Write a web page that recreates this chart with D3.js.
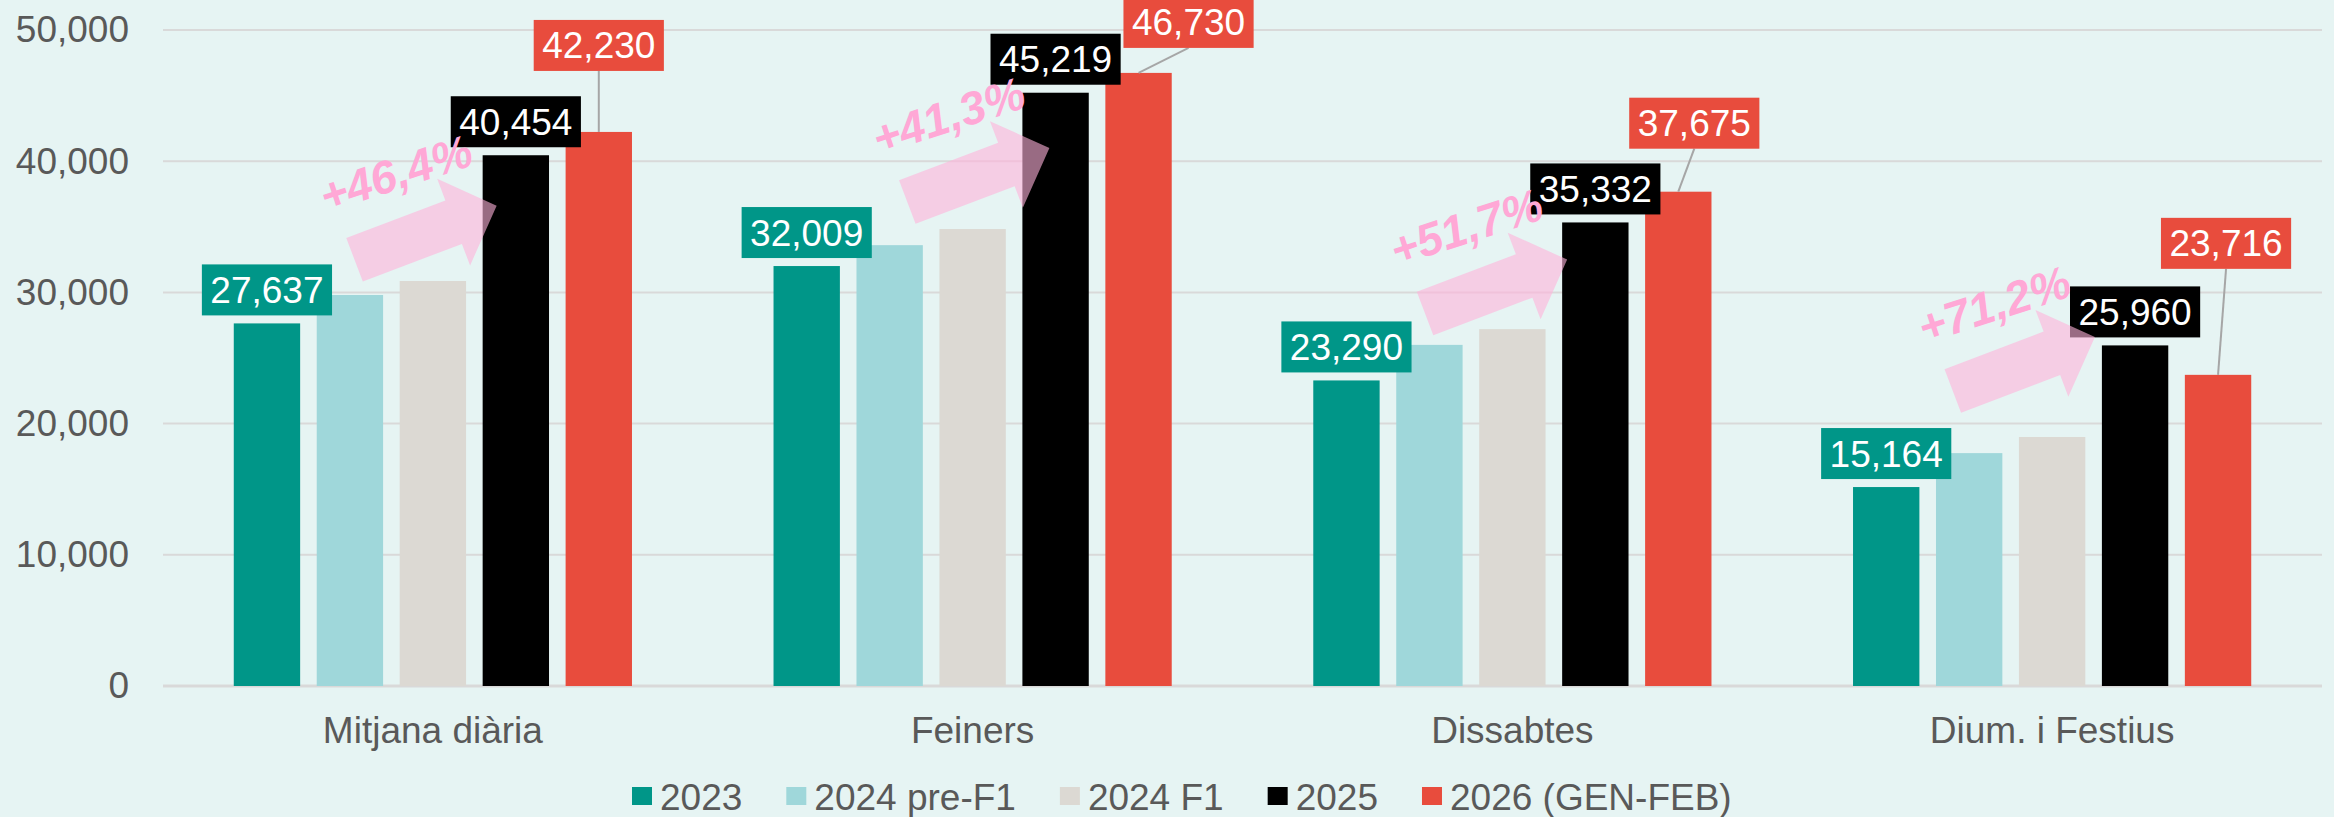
<!DOCTYPE html>
<html>
<head>
<meta charset="utf-8">
<script src="https://cdn.jsdelivr.net/npm/d3@7"></script>
<style>
  html, body { margin: 0; padding: 0; background: #E6F4F3; }
  svg { display: block; font-family: "Liberation Sans", Arial, sans-serif; }
</style>
</head>
<body>
<svg id="chart" width="2334" height="817"></svg>
<script>
// dades
const categories = ["Mitjana diària", "Feiners", "Dissabtes", "Dium. i Festius"];
const seriesNames = ["2023", "2024 pre-F1", "2024 F1", "2025", "2026 (GEN-FEB)"];
const values2023 = [27637, 32009, 23290, 15164];
const values2024pre = [29800, 33600, 26000, 17750];
const values2024f1 = [30870, 34830, 27200, 18980];
const values2025 = [40454, 45219, 35332, 25960];
const values2026 = [42230, 46730, 37675, 23716];
const yTicks = [0, 10000, 20000, 30000, 40000, 50000];
const growthLabels = ["+46,4%", "+41,3%", "+51,7%", "+71,2%"];
const arrowTipValues = [36600, 41000, 32500, 26600];

const seriesValues = [values2023, values2024pre, values2024f1, values2025, values2026];
const colors = ["#009688", "#9FD7DA", "#DCD9D3", "#000000", "#E84C3D"];
const labelled = [0, 3, 4];

// ajustos manuals de les etiquetes / fletxes
const label2026Nudge = [[0, -53], [50, -17], [16, -35], [8, -98]];
const arrowTipDx = [14, 27, 5, -7];

const svg = d3.select("#chart");
const W = 2334, H = 817;
const fontColor = "#595959";

svg.append("rect").attr("width", W).attr("height", H).attr("fill", "#E6F4F3");

const x0 = d3.scaleBand()
    .domain(categories)
    .range([163, 2322])
    .paddingInner(0.2315)
    .paddingOuter(0.11575);

const x1 = d3.scaleBand()
    .domain(seriesNames)
    .range([0, x0.bandwidth()])
    .paddingInner(0.2)
    .paddingOuter(0.1);

const y = d3.scaleLinear().domain([0, 50000]).range([686, 30]);

// reixeta
svg.append("g")
    .selectAll("line")
    .data(yTicks)
    .enter().append("line")
    .attr("x1", 163).attr("x2", 2322)
    .attr("y1", d => y(d)).attr("y2", d => y(d))
    .attr("stroke", "#D9D9D9")
    .attr("stroke-width", d => d === 0 ? 3 : 2);

const yAxis = d3.axisLeft(y).tickValues(yTicks).tickFormat(d3.format(",")).tickSize(0).tickPadding(0);
const yg = svg.append("g").attr("transform", "translate(129,0)").call(yAxis);
yg.select(".domain").remove();
yg.selectAll("text")
    .attr("fill", fontColor)
    .style("font-size", "37px")
    .style("font-family", "Liberation Sans, Arial, sans-serif");

const xAxis = d3.axisBottom(x0).tickSize(0).tickPadding(0);
const xg = svg.append("g").attr("transform", "translate(0,743)").call(xAxis);
xg.select(".domain").remove();
xg.selectAll("text")
    .attr("dy", 0)
    .attr("fill", fontColor)
    .style("font-size", "37px")
    .style("font-family", "Liberation Sans, Arial, sans-serif");

// barres
const rows = categories.map((c, i) => ({
    cat: c,
    idx: i,
    vals: seriesNames.map((s, j) => ({ series: s, j: j, value: seriesValues[j][i], cat: c, idx: i }))
}));

const groups = svg.append("g")
    .selectAll("g")
    .data(rows)
    .enter().append("g")
    .attr("transform", d => `translate(${x0(d.cat)},0)`);

groups.selectAll("rect")
    .data(d => d.vals)
    .enter().append("rect")
    .attr("x", d => x1(d.series))
    .attr("y", d => y(d.value))
    .attr("width", x1.bandwidth())
    .attr("height", d => y(0) - y(d.value))
    .attr("fill", d => colors[d.j]);

// etiquetes de dades
const fmt = d3.format(",");
const labelLayer = svg.append("g");
rows.forEach(r => {
    labelled.forEach(j => {
        const d = r.vals[j];
        const cx = x0(r.cat) + x1(d.series) + x1.bandwidth() / 2;
        const top = y(d.value);
        let dx = 0, dy = 0;
        if (j === 4) { dx = label2026Nudge[r.idx][0]; dy = label2026Nudge[r.idx][1]; }
        const bx = cx + dx;
        const bottom = top - 8 + dy;
        const h = 51;
        const g = labelLayer.append("g");
        if (dx !== 0 || dy !== 0) {
            g.append("line")
                .attr("x1", bx).attr("y1", bottom)
                .attr("x2", cx).attr("y2", top)
                .attr("stroke", "#A6A6A6").attr("stroke-width", 2);
        }
        const rect = g.append("rect").attr("fill", colors[j]);
        const t = g.append("text")
            .attr("x", bx)
            .attr("y", bottom - h / 2 + 13)
            .attr("text-anchor", "middle")
            .attr("fill", "#fff")
            .style("font-size", "37px")
            .text(fmt(d.value));
        const w = t.node().getComputedTextLength() + 17;
        rect.attr("x", bx - w / 2).attr("y", bottom - h).attr("width", w).attr("height", h);
    });
});

// fletxes de creixement
const arrowPts = [[0, 0], [-46, -46.3], [-46, -23.25], [-152, -23.25], [-152, 23.25], [-46, 23.25], [-46, 46.3]];
const arrowLayer = svg.append("g");
rows.forEach(r => {
    const tipX = x0(r.cat) + x1(seriesNames[3]) + arrowTipDx[r.idx];
    const tipY = y(arrowTipValues[r.idx]);
    arrowLayer.append("polygon")
        .attr("points", arrowPts.map(p => p.join(",")).join(" "))
        .attr("transform", `translate(${tipX},${tipY}) rotate(-20.8)`)
        .attr("fill", "rgba(255,178,218,0.6)");
    arrowLayer.append("text")
        .attr("transform", `translate(${tipX - 101},${tipY - 33}) rotate(-18)`)
        .attr("text-anchor", "middle")
        .attr("dy", "0.36em")
        .attr("fill", "#FFA8D6")
        .style("font-size", "46px")
        .style("font-weight", "bold")
        .style("font-style", "italic")
        .text(growthLabels[r.idx]);
});

// llegenda
const legend = svg.append("g");
let lx = 632;
seriesNames.forEach((s, j) => {
    legend.append("rect")
        .attr("x", lx).attr("y", 787)
        .attr("width", 20).attr("height", 18)
        .attr("fill", colors[j]);
    const t = legend.append("text")
        .attr("x", lx + 28).attr("y", 810)
        .attr("fill", fontColor)
        .style("font-size", "37px")
        .text(s);
    lx += 28 + t.node().getComputedTextLength() + 44;
});
</script>
</body>
</html>
